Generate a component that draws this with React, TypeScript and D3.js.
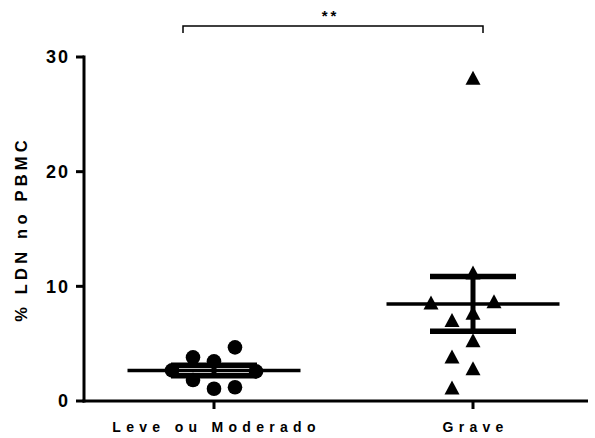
import React from "react";
import * as d3 from "d3";

// Groups and per-patient percentages of LDN in PBMC
const GROUPS = ["Leve ou Moderado", "Grave"];
const LEVE_VALUES = [1.07, 3.46, 1.83, 3.81, 1.2, 4.68, 2.67, 2.58];
const GRAVE_VALUES = [28.2, 11.2, 7.7, 7.06, 8.7, 8.6, 2.85, 3.88, 5.3, 1.18];
const Y_TICKS = [0, 10, 20, 30];
const Y_TITLE = "% LDN no PBMC";
const SIGNIF = "**";

const W = 595;
const H = 438;
const FONT = "Arial, 'Liberation Sans', Helvetica, sans-serif";

const y = d3.scaleLinear().domain([0, 30]).range([401, 57]);
const x = d3.scalePoint<string>().domain(GROUPS).range([214, 473]);
const AXIS_X = 84;
const AXIS_END = 588;

type Placed = { v: number; k: number; y: number };

// Column scatter: points sit on a grid of half-slots around the column
// centre; each takes the free slot closest to the centre, where a slot is
// taken if an earlier point within `gap` px vertically is less than one
// full slot away.
function dodge(values: number[], gap: number): Placed[] {
  const placed: Placed[] = [];
  const order = [0];
  for (let i = 1; i < 40; i++) order.push(-i, i);
  for (const v of values) {
    const py = y(v);
    const k =
      order.find((c) =>
        placed.every((p) => Math.abs(p.y - py) >= gap || Math.abs(p.k - c) >= 2)
      ) ?? 0;
    placed.push({ v, k, y: py });
  }
  return placed;
}

function meanSem(values: number[]) {
  const m = d3.mean(values)!;
  const sd = d3.deviation(values)!;
  return { mean: m, sem: sd / Math.sqrt(values.length) };
}

function triangle(cx: number, cy: number, w: number, h: number) {
  const p = d3.path();
  p.moveTo(cx, cy - h / 2);
  p.lineTo(cx + w / 2, cy + h / 2);
  p.lineTo(cx - w / 2, cy + h / 2);
  p.closePath();
  return p.toString();
}

function Summary({ values, cx }: { values: number[]; cx: number }) {
  const { mean, sem } = meanSem(values);
  const top = y(mean + sem);
  const bot = y(mean - sem);
  return (
    <g stroke="#000" fill="none">
      <line x1={cx} x2={cx} y1={top} y2={bot} strokeWidth={5} />
      <line x1={cx - 43} x2={cx + 43} y1={top} y2={top} strokeWidth={5.5} />
      <line x1={cx - 43} x2={cx + 43} y1={bot} y2={bot} strokeWidth={5.5} />
      <line x1={cx - 86.5} x2={cx + 86.5} y1={y(mean)} y2={y(mean)} strokeWidth={3.5} />
    </g>
  );
}

const HALF_SLOT = 10.5;

export default function App() {
  const c1 = x(GROUPS[0])!;
  const c2 = x(GROUPS[1])!;
  const leve = dodge(LEVE_VALUES, 21);
  const grave = dodge(GRAVE_VALUES, 21);
  const bx1 = c1 - 31;
  const bx2 = c2 + 10;

  return (
    <svg
      width={W}
      height={H}
      viewBox={`0 0 ${W} ${H}`}
      style={{ position: "fixed", left: 0, top: 0, background: "#fff" }}
      fontFamily={FONT}
    >
      <rect width={W} height={H} fill="#fff" />

      {/* points */}
      <g fill="#000">
        {leve.map((p, i) => (
          <circle key={i} cx={c1 + p.k * HALF_SLOT} cy={p.y} r={7.3} />
        ))}
        {grave.map((p, i) => (
          <path key={i} d={triangle(c2 + p.k * HALF_SLOT, p.y, 15, 14)} />
        ))}
      </g>

      <Summary values={LEVE_VALUES} cx={c1} />
      <Summary values={GRAVE_VALUES} cx={c2} />

      {/* y axis */}
      <g stroke="#000" strokeWidth={3}>
        <line x1={AXIS_X} x2={AXIS_X} y1={y(30) - 1.5} y2={y(0) + 1.5} />
        {Y_TICKS.map((t) => (
          <line key={t} x1={AXIS_X - 8} x2={AXIS_X} y1={y(t)} y2={y(t)} />
        ))}
      </g>
      <g fontSize={18} fontWeight="bold" textAnchor="end" letterSpacing={2}>
        {Y_TICKS.map((t) => (
          <text key={t} x={70} y={y(t)} dy="0.36em">
            {t}
          </text>
        ))}
      </g>
      <text
        transform={`translate(27, ${(y(0) + y(30)) / 2}) rotate(-90)`}
        textAnchor="middle"
        fontSize={16.5}
        fontWeight="bold"
        letterSpacing={4.2}
      >
        {Y_TITLE}
      </text>

      {/* x axis */}
      <g stroke="#000" strokeWidth={3}>
        <line x1={AXIS_X - 1.5} x2={AXIS_END} y1={y(0)} y2={y(0)} />
        {GROUPS.map((g) => (
          <line key={g} x1={x(g)!} x2={x(g)!} y1={y(0)} y2={y(0) + 8} />
        ))}
      </g>
      <g fontSize={14} fontWeight="bold" textAnchor="middle" letterSpacing={5.3}>
        {GROUPS.map((g) => (
          <text key={g} x={x(g)! + 2.6} y={432}>
            {g}
          </text>
        ))}
      </g>

      {/* significance bracket */}
      <g stroke="#000" strokeWidth={1.5} fill="none">
        <path d={`M${bx1},${33} V${26} H${bx2} V${33}`} />
      </g>
      <text
        x={(bx1 + bx2) / 2 - 2.5}
        y={21}
        textAnchor="middle"
        fontSize={15}
        fontWeight="bold"
        letterSpacing={3}
      >
        {SIGNIF}
      </text>
    </svg>
  );
}
